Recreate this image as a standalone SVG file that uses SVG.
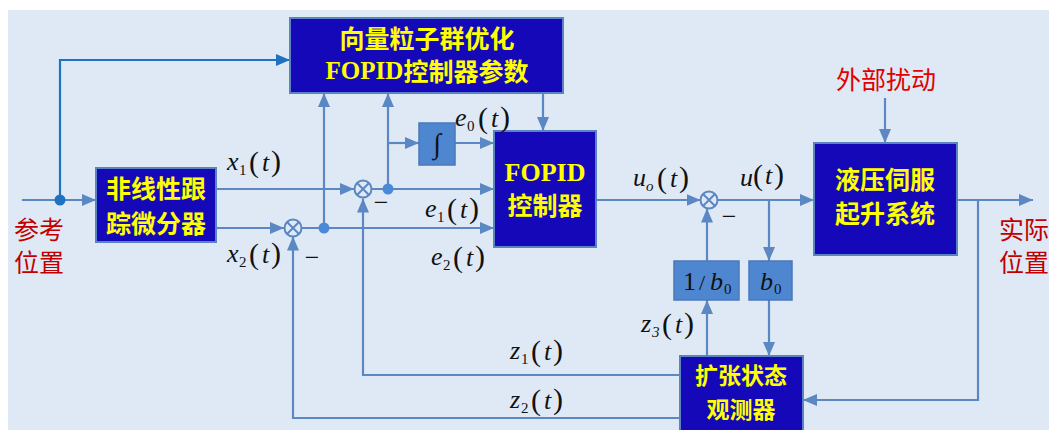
<svg xmlns="http://www.w3.org/2000/svg" width="1049" height="430" viewBox="0 0 1049 430">
<style>
.bg{fill:#dfe9f5}
.blk{fill:#1508b8;stroke:#5a84bf;stroke-width:2}
.sm{fill:#4f86d0;stroke:#4a78b8;stroke-width:1.5}
.ln{fill:none;stroke:#5b87c2;stroke-width:2.2}
.ln2{fill:none;stroke:#1f72c0;stroke-width:2.2}
.sum{fill:none;stroke:#5b87c2;stroke-width:2}
.dot{fill:#4a88d8}
.yt{font-family:"Noto Sans CJK SC","Liberation Serif",sans-serif;font-size:25px;font-weight:bold;fill:#ffff00;text-anchor:middle;dominant-baseline:central}
.yf{font-family:"Liberation Serif",serif;font-weight:bold}
.rt{font-family:"Noto Sans CJK SC",sans-serif;font-size:25px;text-anchor:middle;dominant-baseline:central}
.m{font-family:"Liberation Serif",serif;font-size:26px;fill:#111}
.i{font-style:italic}
.s{font-size:15px}
.p{font-size:30px}
.minus{font-family:"Liberation Serif",serif;font-size:26px;fill:#111;text-anchor:middle}
</style>
<defs>
<marker id="a" viewBox="0 0 14 12" refX="14" refY="6" markerWidth="14" markerHeight="12" markerUnits="userSpaceOnUse" orient="auto"><path d="M0,0 L14,6 L0,12 z" fill="#5b87c2"/></marker>
<marker id="b" viewBox="0 0 14 12" refX="14" refY="6" markerWidth="14" markerHeight="12" markerUnits="userSpaceOnUse" orient="auto"><path d="M0,0 L14,6 L0,12 z" fill="#1f72c0"/></marker>
</defs>
<rect x="0" y="0" width="1049" height="430" fill="#ffffff"/>
<rect class="bg" x="8" y="10" width="1041" height="420"/>

<g id="connectors">
<path class="ln" d="M22,200 H96" marker-end="url(#a)"/>
<path class="ln2" d="M60,200 V60 H290" marker-end="url(#b)"/>
<path class="ln" d="M216,189 H354" marker-end="url(#a)"/>
<path class="ln" d="M216,228 H284" marker-end="url(#a)"/>
<path class="ln" d="M301.5,228 H494" marker-end="url(#a)"/>
<path class="ln" d="M324,228 V93" marker-end="url(#a)"/>
<path class="ln" d="M371.5,189 H494" marker-end="url(#a)"/>
<path class="ln" d="M388,189 V93" marker-end="url(#a)"/>
<path class="ln" d="M388,143 H419" marker-end="url(#a)"/>
<path class="ln" d="M455,143 H494" marker-end="url(#a)"/>
<path class="ln" d="M543,93 V131" marker-end="url(#a)"/>
<path class="ln" d="M596,200 H700.5" marker-end="url(#a)"/>
<path class="ln" d="M717.5,200 H814" marker-end="url(#a)"/>
<path class="ln" d="M769,200 V261" marker-end="url(#a)"/>
<path class="ln" d="M769,299 V356" marker-end="url(#a)"/>
<path class="ln" d="M707,261 V208.5" marker-end="url(#a)"/>
<path class="ln" d="M707,356 V300" marker-end="url(#a)"/>
<path class="ln" d="M957,200 H1033" marker-end="url(#a)"/>
<path class="ln" d="M978,200 V400 H803" marker-end="url(#a)"/>
<path class="ln" d="M680,375 H363 V198.5" marker-end="url(#a)"/>
<path class="ln" d="M680,418 H293 V236.5" marker-end="url(#a)"/>
<path class="ln" d="M885,98 V143" marker-end="url(#a)"/>
<circle cx="60" cy="200" r="5.5" fill="#1f72c0"/>
<circle class="dot" cx="324" cy="228" r="5.5"/>
<circle class="dot" cx="388" cy="189" r="5.5"/>
</g>

<g id="sum0"><circle class="sum" cx="293" cy="228" r="8.5"/><path class="sum" d="M287,222 L299,234 M299,222 L287,234"/></g>
<g id="sum1"><circle class="sum" cx="363" cy="189" r="8.5"/><path class="sum" d="M357,183 L369,195 M369,183 L357,195"/></g>
<g id="sum2"><circle class="sum" cx="709" cy="200" r="8.5"/><path class="sum" d="M703,194 L715,206 M715,194 L703,206"/></g>
<text class="minus" x="312" y="266">−</text>
<text class="minus" x="381" y="211">−</text>
<text class="minus" x="729" y="225">−</text>

<g id="pso"><rect class="blk" x="290" y="18" width="273" height="75"/>
<text class="yt" x="427" y="37">向量粒子群优化</text>
<text class="yt" x="427" y="70"><tspan class="yf">FOPID</tspan>控制器参数</text></g>

<g id="td"><rect class="blk" x="96" y="168" width="120" height="74"/>
<text class="yt" x="156" y="187">非线性跟</text>
<text class="yt" x="156" y="222">踪微分器</text></g>

<g id="integ"><rect class="sm" x="419" y="123" width="36" height="42"/>
<text class="m" x="437" y="153" text-anchor="middle" style="font-size:28px">∫</text></g>

<g id="fopid"><rect class="blk" x="494" y="131" width="102" height="116"/>
<text class="yt yf" x="545" y="172" style="font-family:'Liberation Serif',serif;font-size:26px">FOPID</text>
<text class="yt" x="545" y="204">控制器</text></g>

<g id="plant"><rect class="blk" x="814" y="143" width="143" height="112"/>
<text class="yt" x="885" y="178">液压伺服</text>
<text class="yt" x="885" y="212">起升系统</text></g>

<g id="invb0"><rect class="sm" x="674" y="261" width="65" height="39"/>
<text class="m" y="290"><tspan x="683">1</tspan><tspan x="699" style="font-size:22px">/</tspan><tspan class="i" x="710">b</tspan><tspan class="s" x="724" dy="4">0</tspan></text></g>

<g id="b0"><rect class="sm" x="749" y="261" width="43" height="39"/>
<text class="m" y="290"><tspan class="i" x="760">b</tspan><tspan class="s" x="774" dy="4">0</tspan></text></g>

<g id="eso"><rect class="blk" x="680" y="356" width="123" height="80"/>
<text class="yt" x="741" y="374" style="font-size:23px">扩张状态</text>
<text class="yt" x="741" y="408" style="font-size:23px">观测器</text></g>

<text class="rt" x="39" y="228" fill="#c00000">参考</text>
<text class="rt" x="39" y="261" fill="#c00000">位置</text>
<text class="rt" x="1024" y="228" fill="#c00000">实际</text>
<text class="rt" x="1024" y="261" fill="#c00000">位置</text>
<text class="rt" x="886" y="78" fill="#e00000">外部扰动</text>

<g id="labels">
<text class="m" y="170"><tspan class="i" x="227">x</tspan><tspan class="s" x="239" dy="5">1</tspan><tspan class="p" x="249" dy="-3">(</tspan><tspan class="i" x="262" dy="-1">t</tspan><tspan class="p" x="271">)</tspan></text>
<text class="m" y="262"><tspan class="i" x="227">x</tspan><tspan class="s" x="239" dy="5">2</tspan><tspan class="p" x="249" dy="-3">(</tspan><tspan class="i" x="262" dy="-1">t</tspan><tspan class="p" x="271">)</tspan></text>
<text class="m" y="126"><tspan class="i" x="455">e</tspan><tspan class="s" x="467" dy="5">0</tspan><tspan class="p" x="478" dy="-3">(</tspan><tspan class="i" x="491" dy="-1">t</tspan><tspan class="p" x="500">)</tspan></text>
<text class="m" y="217"><tspan class="i" x="425">e</tspan><tspan class="s" x="437" dy="5">1</tspan><tspan class="p" x="447" dy="-3">(</tspan><tspan class="i" x="460" dy="-1">t</tspan><tspan class="p" x="469">)</tspan></text>
<text class="m" y="265"><tspan class="i" x="431">e</tspan><tspan class="s" x="443" dy="5">2</tspan><tspan class="p" x="453" dy="-3">(</tspan><tspan class="i" x="466" dy="-1">t</tspan><tspan class="p" x="475">)</tspan></text>
<text class="m" y="186"><tspan class="i" x="633">u</tspan><tspan class="s i" x="646" dy="5">o</tspan><tspan class="p" x="657" dy="-3">(</tspan><tspan class="i" x="670" dy="-1">t</tspan><tspan class="p" x="679">)</tspan></text>
<text class="m" y="186"><tspan class="i" x="740">u</tspan><tspan class="p" x="753" dy="-1">(</tspan><tspan class="i" x="765" dy="-1">t</tspan><tspan class="p" x="774">)</tspan></text>
<text class="m" y="332"><tspan class="i" x="641">z</tspan><tspan class="s i" x="652" dy="5">3</tspan><tspan class="p" x="662" dy="-3">(</tspan><tspan class="i" x="675" dy="-1">t</tspan><tspan class="p" x="684">)</tspan></text>
<text class="m" y="359"><tspan class="i" x="510">z</tspan><tspan class="s" x="521" dy="5">1</tspan><tspan class="p" x="531" dy="-3">(</tspan><tspan class="i" x="544" dy="-1">t</tspan><tspan class="p" x="553">)</tspan></text>
<text class="m" y="408"><tspan class="i" x="510">z</tspan><tspan class="s" x="521" dy="5">2</tspan><tspan class="p" x="531" dy="-3">(</tspan><tspan class="i" x="544" dy="-1">t</tspan><tspan class="p" x="553">)</tspan></text>
</g>
</svg>
